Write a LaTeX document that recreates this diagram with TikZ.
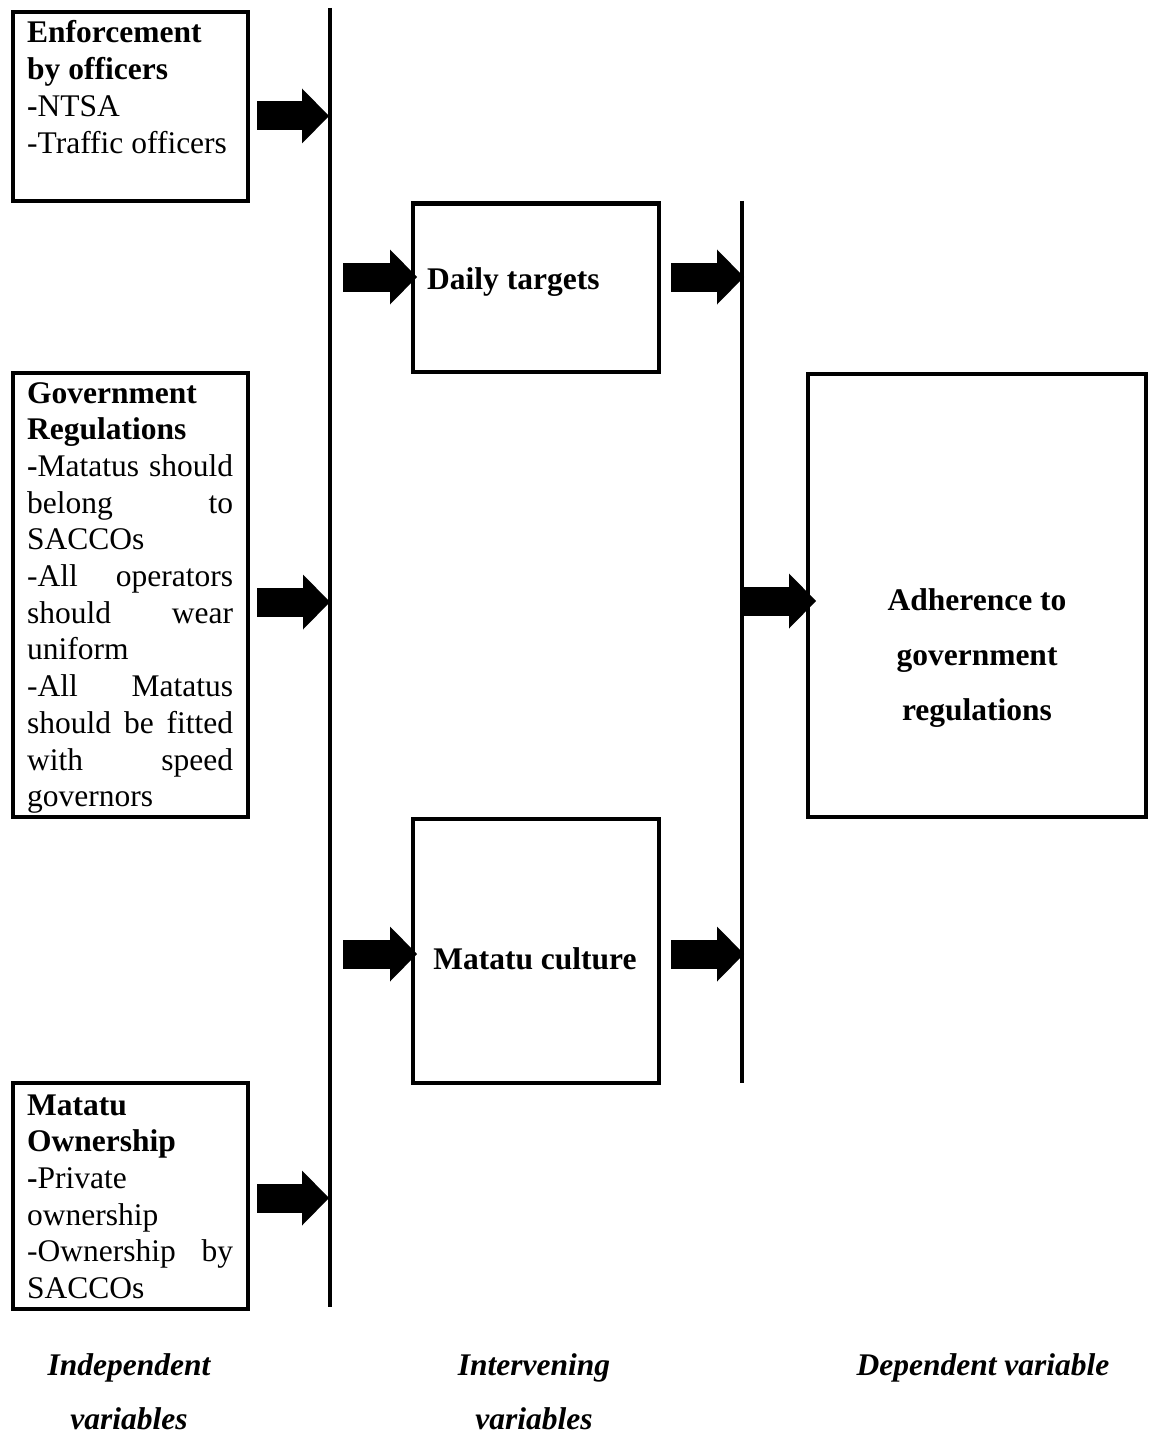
\documentclass[tikz,border=0pt]{standalone}
\usepackage{fontspec}
\setmainfont{Liberation Serif}
\usetikzlibrary{arrows.meta}
\tikzset{
  box/.style={draw, line width=4pt, inner sep=0pt, anchor=center},
  txt/.style={inner sep=0pt, anchor=base west, font=\fontsize{31.5}{36.7}\selectfont},
  ctxt/.style={inner sep=0pt, anchor=base, font=\fontsize{31.5}{55}\selectfont\bfseries},
  lab/.style={inner sep=0pt, anchor=base, font=\fontsize{31.5}{54}\selectfont\bfseries\itshape},
  vline/.style={line width=4pt},
  blk/.style={line width=29pt, -{Triangle[length=27pt,width=55pt,line width=0pt]}}
}
\begin{document}
\begin{tikzpicture}[x=1pt,y=-1pt]
\fill[white] (0,0) rectangle (1149,1434);
\useasboundingbox (0,0) rectangle (1149,1434);

% boxes
\node[box, minimum width=235pt, minimum height=189pt] (enf) at (130,107) {};
\node[box, minimum width=235pt, minimum height=444pt] (gov) at (130,594.5) {};
\node[box, minimum width=235pt, minimum height=226pt] (own) at (130,1195.5) {};
\node[box, minimum width=246pt, minimum height=168pt] (daily) at (536,287.5) {};
\node[box, minimum width=246pt, minimum height=264pt] (cult) at (536,951) {};
\node[box, minimum width=338pt, minimum height=443pt] (adh) at (976.5,595) {};

% texts
\node[txt] (enft) at (27,43) {\parbox[t]{206pt}{\textbf{Enforcement}\\
\textbf{by officers}\\
\textbf{-}NTSA\\
-Traffic officers}};
\node[txt] (govt) at (27,403) {\parbox[t]{206pt}{\textbf{Government}\\
\textbf{Regulations}\\
\makebox[206pt][s]{\textbf{-}Matatus should}\\
\makebox[206pt][s]{belong to}\\
SACCOs\\
\makebox[206pt][s]{-All operators}\\
\makebox[206pt][s]{should wear}\\
uniform\\
\makebox[206pt][s]{-All Matatus}\\
\makebox[206pt][s]{should be fitted}\\
\makebox[206pt][s]{with speed}\\
governors}};
\node[txt] (ownt) at (27,1115) {\parbox[t]{206pt}{\textbf{Matatu}\\
\textbf{Ownership}\\
\textbf{-}Private\\
ownership\\
\makebox[206pt][s]{-Ownership by}\\
SACCOs}};
\node[txt, font=\fontsize{31.5}{36.7}\selectfont\bfseries] (dailyt) at (427,289) {Daily targets};
\node[ctxt] (cultt) at (535,969) {Matatu culture};
\node[ctxt] (adht) at (977,610) {\parbox[t]{320pt}{\centering Adherence to\\ government\\ regulations}};

% bottom labels
\node[lab] (lind) at (129,1375) {\parbox[t]{250pt}{\centering Independent\\ variables}};
\node[lab] (lint) at (534,1375) {\parbox[t]{250pt}{\centering Intervening\\ variables}};
\node[lab] (ldep) at (983,1375) {Dependent variable};

% vertical lines
\coordinate (l1top) at (330,8);
\coordinate (l1bot) at (330,1307);
\coordinate (l2top) at (742,201);
\coordinate (l2bot) at (742,1083);
\draw[vline] (l1top) -- (l1bot);
\draw[vline] (l2top) -- (l2bot);

% block arrows
\coordinate (a1s) at (257,116);  \coordinate (a1e) at (329,116);
\coordinate (a2s) at (343,277);  \coordinate (a2e) at (417,277);
\coordinate (a3s) at (671,277);  \coordinate (a3e) at (744,277);
\coordinate (a4s) at (257,602);  \coordinate (a4e) at (330,602);
\coordinate (a5s) at (742,601);  \coordinate (a5e) at (816,601);
\coordinate (a6s) at (343,954);  \coordinate (a6e) at (417,954);
\coordinate (a7s) at (671,954);  \coordinate (a7e) at (744,954);
\coordinate (a8s) at (257,1198); \coordinate (a8e) at (329,1198);
\foreach \i in {1,...,8} {\draw[blk] (a\i s) -- (a\i e);}
\end{tikzpicture}
\end{document}
